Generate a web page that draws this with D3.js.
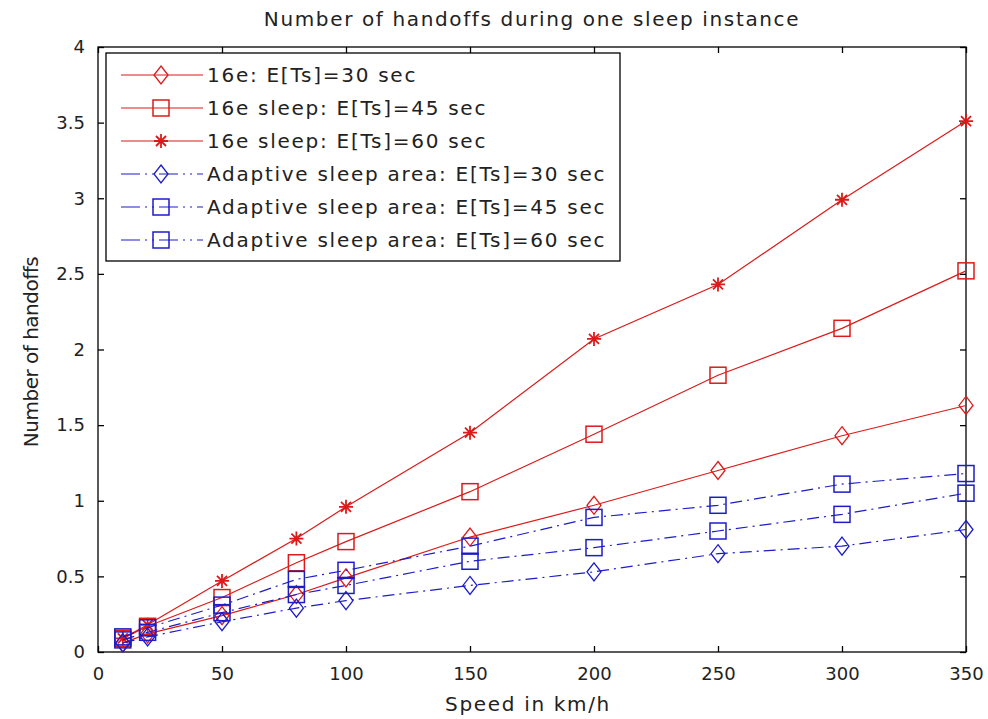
<!DOCTYPE html>
<html><head><meta charset="utf-8">
<script src="https://cdn.jsdelivr.net/npm/d3@7"></script>
<style>body{margin:0;background:#fff}svg{display:block;font-family:"DejaVu Sans",Arial,sans-serif}</style>
</head><body><svg id="c" width="988" height="719"></svg>
<script>
const speeds = [10, 20, 50, 80, 100, 150, 200, 250, 300, 350];
const e16_30 = [0.06, 0.12, 0.24, 0.38, 0.49, 0.76, 0.97, 1.20, 1.43, 1.63];
const e16_45 = [0.09, 0.17, 0.36, 0.59, 0.73, 1.06, 1.44, 1.83, 2.14, 2.52];
const e16_60 = [0.09, 0.18, 0.47, 0.75, 0.96, 1.45, 2.07, 2.43, 2.99, 3.51];
const ad_30 = [0.06, 0.10, 0.20, 0.29, 0.34, 0.44, 0.53, 0.65, 0.70, 0.81];
const ad_45 = [0.08, 0.13, 0.26, 0.38, 0.44, 0.60, 0.69, 0.80, 0.91, 1.05];
const ad_60 = [0.10, 0.16, 0.31, 0.48, 0.54, 0.70, 0.89, 0.97, 1.11, 1.18];
const seriesNames = ["16e: E[Ts]=30 sec","16e sleep: E[Ts]=45 sec","16e sleep: E[Ts]=60 sec",
  "Adaptive sleep area: E[Ts]=30 sec","Adaptive sleep area: E[Ts]=45 sec","Adaptive sleep area: E[Ts]=60 sec"];
const xTicks = [0,50,100,150,200,250,300,350];
const yTicks = [0,0.5,1,1.5,2,2.5,3,3.5,4];
const yTickLabels = ["0","0.5","1","1.5","2","2.5","3","3.5","4"];

const RED = "#dd1a1a", BLUE = "#1c1cc8";
const DASH = "12,5,2,5";
const series = [
  {name: seriesNames[0], values: e16_30, color: RED, marker: "diamond", dash: null},
  {name: seriesNames[1], values: e16_45, color: RED, marker: "square", dash: null},
  {name: seriesNames[2], values: e16_60, color: RED, marker: "star", dash: null},
  {name: seriesNames[3], values: ad_30, color: BLUE, marker: "diamond", dash: DASH},
  {name: seriesNames[4], values: ad_45, color: BLUE, marker: "square", dash: DASH},
  {name: seriesNames[5], values: ad_60, color: BLUE, marker: "square", dash: DASH}
];

const svg = d3.select("#c");
const L = 98, R = 966, T = 47, B = 652;
const x = d3.scaleLinear().domain([0,350]).range([L,R]);
const y = d3.scaleLinear().domain([0,4]).range([B,T]);

function fit(sel, target){
  const n = sel.text().length;
  const w = sel.node().getComputedTextLength();
  sel.attr("letter-spacing", ((target - w) / n).toFixed(2));
}

svg.append("rect").attr("x",L).attr("y",T).attr("width",R-L).attr("height",B-T)
  .attr("fill","#fff").attr("stroke","#000").attr("stroke-width",1.3);

const tl = 6, fs = 18;
const xAx = svg.append("g").attr("transform",`translate(0,${B})`)
  .call(d3.axisBottom(x).tickValues(xTicks).tickSize(-tl).tickPadding(15).tickFormat(d3.format("d")));
const xAxT = svg.append("g").attr("transform",`translate(0,${T})`)
  .call(d3.axisTop(x).tickValues(xTicks).tickSize(-tl).tickFormat(""));
const yAx = svg.append("g").attr("transform",`translate(${L},0)`)
  .call(d3.axisLeft(y).tickValues(yTicks).tickSize(-tl).tickPadding(13).tickFormat((d,i)=>yTickLabels[i]));
const yAxR = svg.append("g").attr("transform",`translate(${R},0)`)
  .call(d3.axisRight(y).tickValues(yTicks).tickSize(-tl).tickFormat(""));
[xAx,xAxT,yAx,yAxR].forEach(g=>{
  g.select(".domain").remove();
  g.selectAll("line").attr("stroke","#000").attr("stroke-width",1.3);
  g.selectAll("text").attr("font-size",fs).attr("fill","#222").attr("font-family","DejaVu Sans, Arial, sans-serif");
});

function drawMarker(g, type, cx, cy, color){
  if(type==="diamond"){
    g.append("path").attr("d",`M${cx},${cy-9}L${cx+7},${cy}L${cx},${cy+9}L${cx-7},${cy}Z`)
      .attr("fill","none").attr("stroke",color).attr("stroke-width",1.3);
  } else if(type==="square"){
    g.append("rect").attr("x",cx-8).attr("y",cy-8).attr("width",16).attr("height",16)
      .attr("fill","none").attr("stroke",color).attr("stroke-width",1.5);
  } else {
    const r=7, d=5;
    g.append("path").attr("d",`M${cx-r},${cy}L${cx+r},${cy}M${cx},${cy-r}L${cx},${cy+r}M${cx-d},${cy-d}L${cx+d},${cy+d}M${cx-d},${cy+d}L${cx+d},${cy-d}`)
      .attr("stroke",color).attr("stroke-width",1.8);
  }
}

const line = d3.line().x(d=>x(d[0])).y(d=>y(d[1]));
const plot = svg.append("g");
series.forEach(s=>{
  const pts = speeds.map((v,i)=>[v,s.values[i]]);
  plot.append("path").attr("d",line(pts)).attr("fill","none").attr("stroke",s.color)
    .attr("stroke-width",1.2).attr("stroke-dasharray",s.dash);
  pts.forEach(p=>drawMarker(plot,s.marker,x(p[0]),y(p[1]),s.color));
});

// legend
const lg = svg.append("g");
lg.append("rect").attr("x",106).attr("y",53).attr("width",514).attr("height",208)
  .attr("fill","#fff").attr("stroke","#000").attr("stroke-width",1.3);
const legTexts = [];
series.forEach((s,i)=>{
  const yy = 75 + i*33;
  lg.append("line").attr("x1",121).attr("x2",203).attr("y1",yy).attr("y2",yy)
    .attr("stroke",s.color).attr("stroke-width",1.2).attr("stroke-dasharray",s.dash ? "19,5,2,5,2,5" : null);
  drawMarker(lg,s.marker,161,yy,s.color);
  legTexts.push(lg.append("text").attr("x",207).attr("y",yy+7).attr("font-size",20).attr("fill","#222").text(s.name));
});
{
  const longest = legTexts[5];
  const n = longest.text().length;
  const w = longest.node().getComputedTextLength();
  const ls = Math.max(0, (399 - w) / n).toFixed(2);
  legTexts.forEach(t=>t.attr("letter-spacing",ls));
}

// titles
const title = svg.append("text").attr("x",532).attr("y",26).attr("text-anchor","middle").attr("font-size",20)
  .attr("fill","#222").text("Number of handoffs during one sleep instance");
fit(title, 536);
const xl = svg.append("text").attr("x",528).attr("y",711).attr("text-anchor","middle").attr("font-size",20)
  .attr("fill","#222").text("Speed in km/h");
fit(xl, 166);
const yl = svg.append("text").attr("transform","translate(38,352) rotate(-90)").attr("text-anchor","middle").attr("font-size",20)
  .attr("fill","#222").text("Number of handoffs");
fit(yl, 190);
</script></body></html>
